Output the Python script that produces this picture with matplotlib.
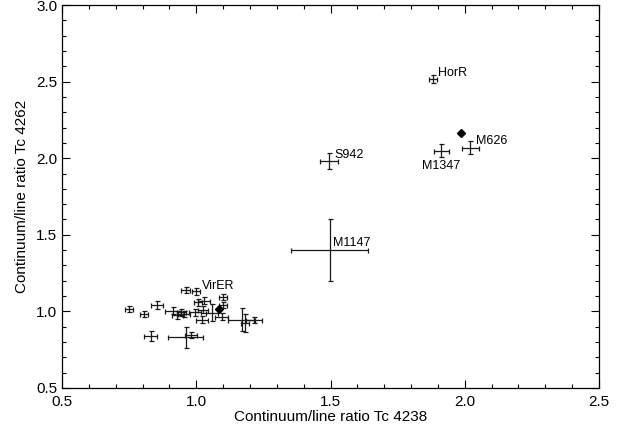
import matplotlib
matplotlib.use("Agg")
import matplotlib.pyplot as plt
from matplotlib.ticker import MultipleLocator
import numpy as np

plt.rcParams['font.family'] = ['Liberation Sans', 'DejaVu Sans']

# Tc 4238 ratio, Tc 4262 ratio and their errors
x = [0.75, 0.805, 0.855, 0.96, 0.915, 0.93, 0.945, 0.955, 0.83, 0.96, 0.98,
     1.00, 1.10, 1.10, 1.005, 1.03, 1.025, 0.995, 1.02, 1.06, 1.095, 1.17,
     1.18, 1.215,
     1.882, 2.021, 1.913, 1.495, 1.497]
y = [1.015, 0.985, 1.04, 1.14, 1.005, 0.975, 0.995, 0.985, 0.84, 0.83, 0.845,
     1.13, 1.095, 1.04, 1.06, 1.07, 1.01, 0.995, 0.945, 0.99, 0.965, 0.945,
     0.925, 0.945,
     2.517, 2.069, 2.049, 1.982, 1.40]
xerr = [0.015, 0.015, 0.022, 0.015, 0.03, 0.022, 0.018, 0.022, 0.025, 0.065, 0.022,
        0.015, 0.015, 0.015, 0.015, 0.022, 0.018, 0.022, 0.022, 0.022, 0.025, 0.05,
        0.015, 0.03,
        0.014, 0.033, 0.028, 0.034, 0.144]
yerr = [0.022, 0.02, 0.025, 0.022, 0.022, 0.025, 0.022, 0.02, 0.035, 0.07, 0.022,
        0.022, 0.02, 0.02, 0.022, 0.022, 0.022, 0.022, 0.022, 0.055, 0.022, 0.075,
        0.06, 0.02,
        0.024, 0.044, 0.042, 0.052, 0.20]

# filled diamonds (no error bars)
dx = [1.085, 1.985]
dy = [1.015, 2.162]

# labelled stars: name, index into x/y, text offset in pixels
names = ['VirER', 'HorR', 'M626', 'M1347', 'S942', 'M1147']
name_idx = [11, 24, 25, 26, 27, 28]
name_off = [(6, 5), (5, 6), (6, 7), (-19, -15), (5, 6), (3, 7)]

fig = plt.figure(figsize=(6.25, 4.32), dpi=100)
ax = fig.add_axes([0.0992, 0.1019, 0.8592, 0.8865])

ax.errorbar(x, y, xerr=xerr, yerr=yerr, fmt='none', ecolor='0.1',
            elinewidth=0.9, capsize=1.8, capthick=0.9)
ax.plot(dx, dy, 'D', color='black', markersize=4)

for n, i, off in zip(names, name_idx, name_off):
    ax.annotate(n, (x[i], y[i]), xytext=off, textcoords='offset pixels',
                fontsize=9, ha='left', va='center')

ax.set_xlim(0.5, 2.5)
ax.set_ylim(0.5, 3.0)
ax.xaxis.set_major_locator(MultipleLocator(0.5))
ax.xaxis.set_minor_locator(MultipleLocator(0.1))
ax.yaxis.set_major_locator(MultipleLocator(0.5))
ax.yaxis.set_minor_locator(MultipleLocator(0.1))
ax.xaxis.set_major_formatter(plt.FormatStrFormatter('%.1f'))
ax.yaxis.set_major_formatter(plt.FormatStrFormatter('%.1f'))
ax.tick_params(which='both', direction='in', top=True, right=True,
               labelsize=11, width=0.8)
ax.tick_params(axis='x', which='major', pad=5)
ax.tick_params(which='major', length=5.5)
ax.tick_params(which='minor', length=3)
for s in ax.spines.values():
    s.set_linewidth(0.9)

ax.set_xlabel('Continuum/line ratio Tc 4238', fontsize=11, labelpad=1)
ax.set_ylabel('Continuum/line ratio Tc 4262', fontsize=11, labelpad=5)

fig.savefig('out.png', dpi=100)
